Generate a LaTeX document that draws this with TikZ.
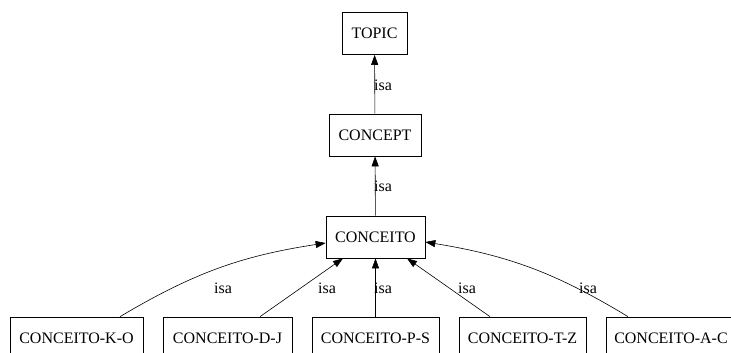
\documentclass[tikz,border=0pt]{standalone}
\usepackage{fontspec}
\setmainfont{Liberation Serif}
\usetikzlibrary{arrows.meta}
\tikzset{
	concept/.style={draw, rectangle, line width=0.7pt, minimum height=42pt, inner sep=0pt, font=\fontsize{16}{18}\selectfont},
	isa/.style={-{Triangle[length=10pt,width=7pt]}, line width=0.6pt},
	isalabel/.style={font=\fontsize{16}{18}\selectfont, inner sep=0pt}
}
\begin{document}
\begin{tikzpicture}[x=1pt,y=-1pt]
			% frame of the picture
			\useasboundingbox (0,0) rectangle (731,353);
			\clip (0,0) rectangle (731,353);
			% upper nodes
			\node[concept, minimum width=65pt] (topic) at (374.5,33.5) {TOPIC};
			\node[concept, minimum width=92pt] (concept) at (375,135) {CONCEPT};
			\node[concept, minimum width=99pt] (conceito) at (375.5,237) {CONCEITO};
			% lower nodes
			\node[concept, minimum width=133pt] (ko) at (76.5,338) {CONCEITO-K-O};
			\node[concept, minimum width=129pt] (dj) at (227.5,338) {CONCEITO-D-J};
			\node[concept, minimum width=127pt] (ps) at (375.5,338) {CONCEITO-P-S};
			\node[concept, minimum width=127pt] (tz) at (522.5,338) {CONCEITO-T-Z};
			\node[concept, minimum width=130pt] (ac) at (671,338) {CONCEITO-A-C};
			% edges
			\draw[isa] (concept) -- (topic);
			\draw[isa] (conceito) -- (concept);
			\draw[isa] ([xshift=43.5pt]ko.north) to[bend left=11] ([yshift=-6pt]conceito.west);
			\draw[isa] ([xshift=32.5pt]dj.north) -- ([xshift=-32.5pt]conceito.south);
			\draw[isa] (ps) -- (conceito);
			\draw[isa] ([xshift=-32.5pt]tz.north) -- ([xshift=31.5pt]conceito.south);
			\draw[isa] ([xshift=-43pt]ac.north) to[bend right=11] ([yshift=-5pt]conceito.east);
			% labels
			\node[isalabel] (l1) at (383,85) {isa};
			\node[isalabel] (l2) at (383,186) {isa};
			\node[isalabel] (l3) at (223,288) {isa};
			\node[isalabel] (l4) at (327,288) {isa};
			\node[isalabel] (l5) at (383,288) {isa};
			\node[isalabel] (l6) at (467,288) {isa};
			\node[isalabel] (l7) at (588,288) {isa};
\end{tikzpicture}
\end{document}
